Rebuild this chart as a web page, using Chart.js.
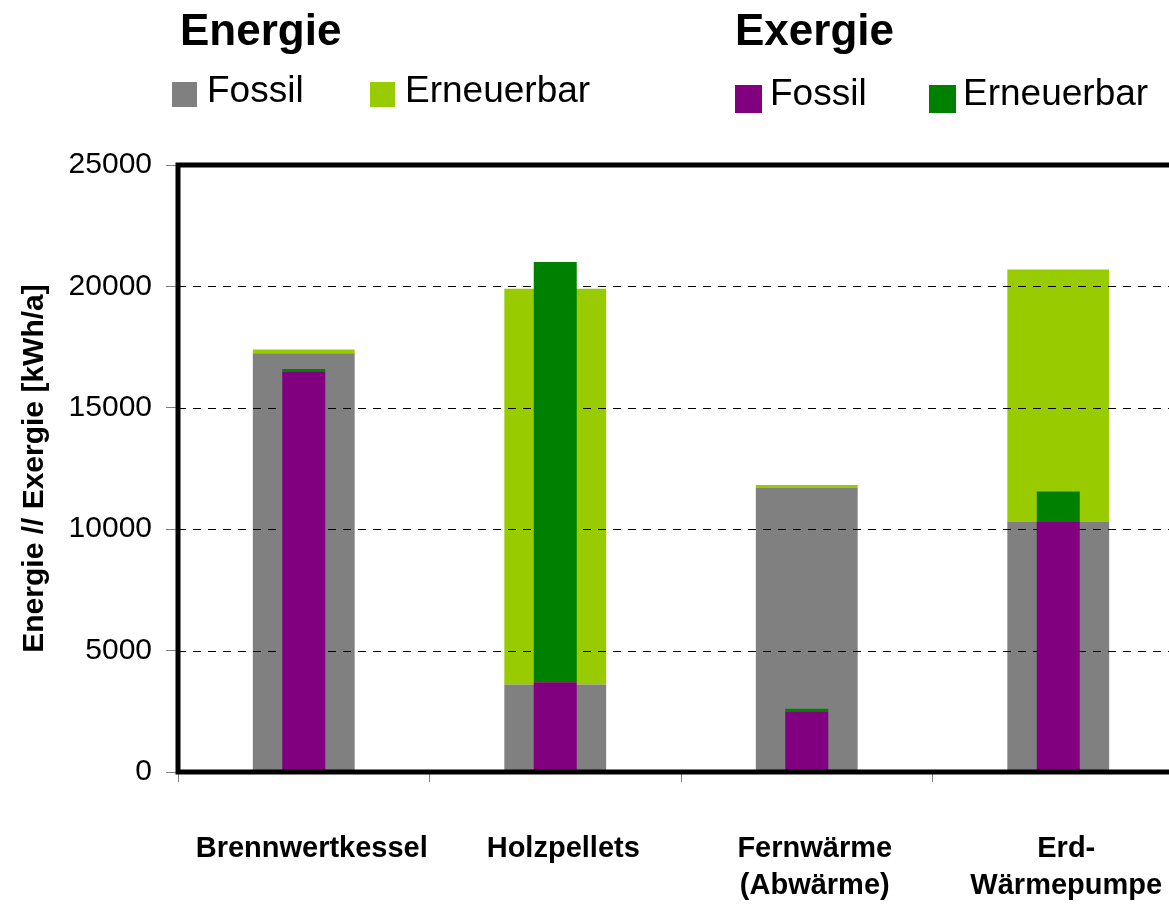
<!DOCTYPE html>
<html>
<head>
<meta charset="utf-8">
<script src="https://cdn.jsdelivr.net/npm/chart.js@4"></script>
<style>
  html, body { margin: 0; padding: 0; overflow: hidden; background: #fff; width: 1169px; height: 904px; }
  canvas { display: block; }
</style>
</head>
<body>
<canvas id="c" width="1200" height="904"></canvas>
<script>
// Heizsysteme im Vergleich: Energie- und Exergiebedarf in kWh/a
const categories = ['Brennwertkessel', 'Holzpellets', ['Fernwärme', '(Abwärme)'], ['Erd-', 'Wärmepumpe']];
const energieFossil     = [17250, 3600, 11700, 10300];
const energieErneuerbar = [150, 16300, 120, 10400];
const exergieFossil     = [16500, 3700, 2470, 10300];
const exergieErneuerbar = [100, 17300, 130, 1250];
const yTickValues = [0, 5000, 10000, 15000, 20000, 25000];
const groupTitles = { energie: 'Energie', exergie: 'Exergie' };

const FONT = "'Liberation Sans', Arial, sans-serif";

// legend, drawn as two titled groups above the plot
const legendLayout = {
  energie: { titleX: 180, titleY: 45, items: [{ x: 172, y: 82, w: 25, h: 25, tx: 207, ty: 102 }, { x: 370, y: 82, w: 25, h: 25, tx: 405, ty: 102 }] },
  exergie: { titleX: 735, titleY: 45, items: [{ x: 735, y: 85, w: 27, h: 28, tx: 770, ty: 105 }, { x: 929, y: 85, w: 27, h: 28, tx: 963, ty: 105 }] }
};

const groupLegend = {
  id: 'groupLegend',
  afterDraw(chart) {
    const ctx = chart.ctx;
    ctx.save();
    ctx.textBaseline = 'alphabetic';
    ctx.textAlign = 'left';
    Object.keys(legendLayout).forEach(key => {
      const lay = legendLayout[key];
      ctx.font = 'bold 44px ' + FONT;
      ctx.fillStyle = '#000';
      ctx.fillText(groupTitles[key], lay.titleX, lay.titleY);
      const sets = chart.data.datasets.filter(d => d.stack === key);
      sets.forEach((ds, i) => {
        const it = lay.items[i];
        ctx.fillStyle = ds.backgroundColor;
        ctx.fillRect(it.x, it.y, it.w, it.h);
        ctx.fillStyle = '#000';
        ctx.font = '37px ' + FONT;
        ctx.fillText(ds.label, it.tx, it.ty);
      });
    });
    ctx.restore();
  }
};

// dashed grid lines lie above the energy bars but beneath the exergy bars
const dashedGrid = {
  id: 'dashedGrid',
  beforeDatasetsDraw(chart) { chart.$gridDone = false; },
  beforeDatasetDraw(chart, args) {
    const ds = chart.data.datasets[args.index];
    if (ds.stack !== 'exergie' || chart.$gridDone) return;
    chart.$gridDone = true;
    const y = chart.scales.y, area = chart.chartArea, ctx = chart.ctx;
    ctx.save();
    ctx.strokeStyle = '#000';
    ctx.lineWidth = 1;
    ctx.setLineDash([8, 7]);
    y.ticks.forEach(t => {
      if (t.value <= y.min || t.value >= y.max) return;
      const py = Math.round(y.getPixelForValue(t.value)) + 0.5;
      ctx.beginPath();
      ctx.moveTo(area.left, py);
      ctx.lineTo(area.right, py);
      ctx.stroke();
    });
    ctx.restore();
  }
};

// heavy frame round the plot area
const plotFrame = {
  id: 'plotFrame',
  afterDatasetsDraw(chart) {
    const a = chart.chartArea, ctx = chart.ctx;
    ctx.save();
    ctx.strokeStyle = '#000';
    ctx.lineWidth = 5;
    ctx.strokeRect(a.left, a.top, a.right - a.left, a.bottom - a.top);
    ctx.restore();
  }
};

const barCommon = { grouped: false, categoryPercentage: 1 };

new Chart(document.getElementById('c'), {
  type: 'bar',
  data: {
    labels: categories,
    datasets: [
      { ...barCommon, label: 'Fossil', data: energieFossil, backgroundColor: '#808080', stack: 'energie', xAxisID: 'x', order: 1, barPercentage: 0.405 },
      { ...barCommon, label: 'Erneuerbar', data: energieErneuerbar, backgroundColor: '#99cc00', stack: 'energie', xAxisID: 'x', order: 1, barPercentage: 0.405 },
      { ...barCommon, label: 'Fossil', data: exergieFossil, backgroundColor: '#800080', stack: 'exergie', xAxisID: 'x2', order: 0, barPercentage: 0.171 },
      { ...barCommon, label: 'Erneuerbar', data: exergieErneuerbar, backgroundColor: '#008000', stack: 'exergie', xAxisID: 'x2', order: 0, barPercentage: 0.171 }
    ]
  },
  options: {
    responsive: false,
    animation: false,
    layout: { padding: { top: 165, right: 16, left: 0, bottom: 0 } },
    plugins: { legend: { display: false }, tooltip: { enabled: false } },
    scales: {
      x: {
        type: 'category',
        stacked: true,
        afterFit(scale) { scale.height = 132; scale.paddingLeft = 0; scale.paddingRight = 0; },
        border: { display: false },
        grid: { offset: true, drawOnChartArea: false, drawTicks: true, tickLength: 10, tickColor: '#808080', tickWidth: 1 },
        ticks: {
          color: '#000',
          font: { family: FONT, size: 29, weight: 'bold', lineHeight: 1.27 },
          padding: 49,
          maxRotation: 0,
          autoSkip: false,
          labelOffset: 8
        }
      },
      x2: {
        type: 'category',
        stacked: true,
        display: false,
        labels: categories
      },
      y: {
        stacked: true,
        min: 0,
        max: 25000,
        afterFit(scale) { scale.width = 178; scale.paddingTop = 0; scale.paddingBottom = 0; },
        afterBuildTicks(scale) { scale.ticks = yTickValues.map(v => ({ value: v })); },
        border: { display: false },
        grid: { drawOnChartArea: false, drawTicks: true, tickLength: 12, tickColor: '#808080', tickWidth: 1 },
        ticks: {
          color: '#000',
          font: { family: FONT, size: 30 },
          padding: 14,
          callback: v => String(v)
        },
        title: {
          display: true,
          text: 'Energie // Exergie [kWh/a]',
          color: '#000',
          font: { family: FONT, size: 30, weight: 'bold' },
          padding: { top: 17, bottom: 0 }
        }
      }
    }
  },
  plugins: [dashedGrid, plotFrame, groupLegend]
});
</script>
</body>
</html>
